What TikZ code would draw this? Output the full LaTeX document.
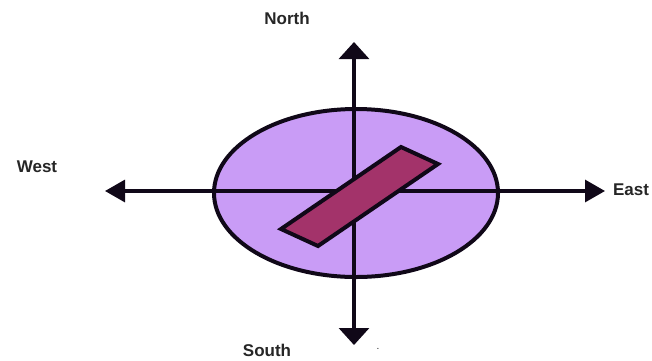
\documentclass[tikz,border=0pt]{standalone}
\usepackage{fontspec}
\setmainfont{Liberation Sans}
\usetikzlibrary{arrows.meta}
\definecolor{ellfill}{HTML}{C99CF6}
\definecolor{barfill}{HTML}{A3336A}
\definecolor{inkc}{HTML}{100818}
\tikzset{
  lbl/.style={font=\fontsize{17}{19}\selectfont\bfseries, text=black!85, inner sep=0pt},
  axisH/.style={line width=3.2pt, draw=inkc, -{Triangle[length=20pt,width=22pt]}},
  axisV/.style={line width=3.2pt, draw=inkc, -{Triangle[length=17pt,width=30pt]}},
}
\begin{document}
\begin{tikzpicture}[x=1pt,y=-1pt]
\useasboundingbox (0,0) rectangle (652,360);
\coordinate (c) at (356,193);
\coordinate (o) at (354,191);
\draw[line width=4pt, draw=inkc, fill=ellfill] (c) ellipse [x radius=142, y radius=84];
\coordinate (w) at (105,191);
\coordinate (e) at (605,191);
\coordinate (n) at (354,42);
\coordinate (s) at (354,345);
\draw[axisH] (o) -- (w);
\draw[axisH] (o) -- (e);
\draw[axisV] (o) -- (n);
\draw[axisV] (o) -- (s);
\draw[line width=4pt, draw=inkc, fill=barfill, line join=miter]
  (281,229) -- (401,147) -- (438,164) -- (318,246) -- cycle;
\node[lbl] (north) at (287,18) {North};
\node[lbl] (west) at (37,167) {West};
\node[lbl] (east) at (631,190) {East};
\node[lbl] (south) at (267,350) {South};
\node[lbl, font=\fontsize{10}{12}\selectfont] (dot) at (378,349) {.};
\end{tikzpicture}
\end{document}
